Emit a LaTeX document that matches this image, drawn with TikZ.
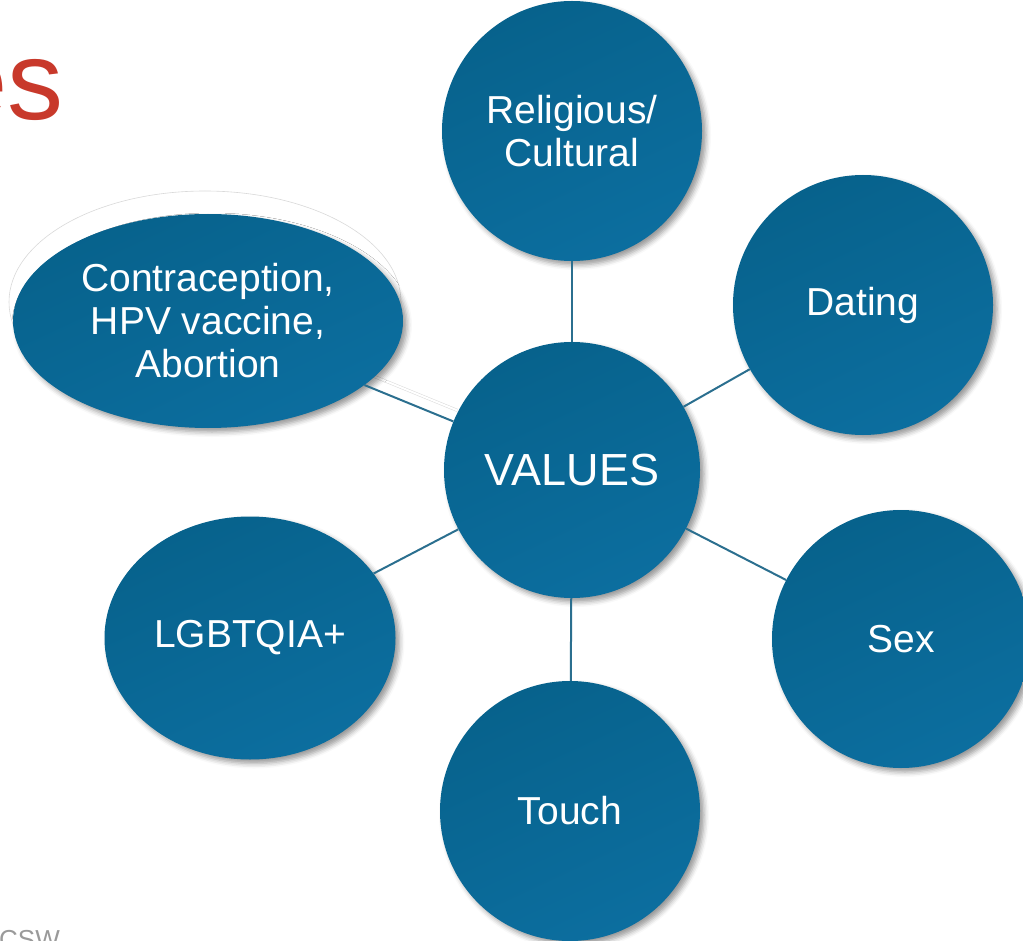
\documentclass[tikz,border=0pt]{standalone}
\usepackage{fontspec}
\setmainfont{Liberation Sans}
\usetikzlibrary{shapes.geometric,shadows.blur,backgrounds}

\definecolor{valdark}{HTML}{07628C}
\definecolor{vallight}{HTML}{0C6E9F}
\definecolor{linkblue}{HTML}{2B6F8F}
\definecolor{titlered}{HTML}{C8392B}
\definecolor{footgrey}{HTML}{9A9A9A}

\begin{document}
\begin{tikzpicture}[x=1pt,y=-1pt]
\tikzstyle{every node}+=[inner sep=0pt]
\tikzstyle{bubble}=[circle, top color=valdark, bottom color=vallight, shading angle=25,
  text=white, align=center, font=\fontsize{39}{43}\selectfont,
  blur shadow={shadow xshift=4pt, shadow yshift=-4pt, shadow blur radius=5pt, shadow opacity=40}]
\tikzstyle{oval}=[bubble, ellipse]
\tikzstyle{link}=[linkblue, line width=2pt]
\useasboundingbox (0,0) rectangle (1023,941);
\clip (0,0) rectangle (1023,941);
% slide leftovers
\node [anchor=base east, text=titlered, font=\fontsize{112}{112}\selectfont] (title) at (64,120) {es};
\node [anchor=north west, text=footgrey, font=\fontsize{26}{26}\selectfont] (foot) at (-1,930) {CSW};
% faint outline behind the oval
\draw [gray!30, fill=white, line width=0.6pt] (205,302) ellipse (196 and 111);
% bubbles
\node [bubble, minimum size=256pt, font=\fontsize{45}{45}\selectfont] (val) at (572,470) {VALUES};
\node [bubble, minimum size=260pt] (rel) at (572,131) {Religious/\\Cultural};
\node [bubble, minimum size=260pt] (dat) at (863,305) {Dating};
\node [bubble, minimum size=258pt] (sex) at (901,639) {Sex};
\node [bubble, minimum size=260pt] (tou) at (570,811) {Touch};
\node [oval, minimum width=291pt, minimum height=243pt] (lgb) at (250,638) {LGBTQIA+};
\node [oval, minimum width=390pt, minimum height=214pt] (con) at (208,321) {Contraception,\\HPV vaccine,\\Abortion};
% spokes
\begin{pgfonlayer}{background}
\draw [gray!30, double=white, double distance=2pt, line width=0.5pt, transform canvas={xshift=4pt, yshift=11pt}] (con) -- (val);
\end{pgfonlayer}
\draw [link] (val) -- (rel);
\draw [link] (val) -- (dat);
\draw [link] (val) -- (sex);
\draw [link] (val) -- (tou);
\draw [link] (val) -- (lgb);
\draw [link] (val) -- (con);
\end{tikzpicture}
\end{document}
